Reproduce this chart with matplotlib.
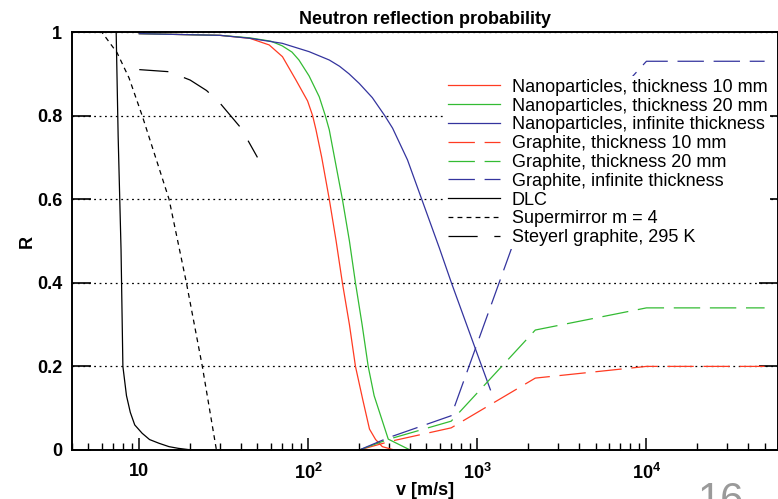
import numpy as np
import matplotlib
matplotlib.use("Agg")
import matplotlib.pyplot as plt
from matplotlib.ticker import FixedLocator, FixedFormatter, LogLocator, NullFormatter

plt.rcParams['font.family'] = ['Liberation Sans', 'DejaVu Sans']
plt.rcParams['mathtext.fontset'] = 'custom'
plt.rcParams['mathtext.bf'] = 'Liberation Sans:bold'
plt.rcParams['mathtext.rm'] = 'Liberation Sans'
plt.rcParams['lines.scale_dashes'] = False

# Nanoparticles (solid)
v_np10 = [10, 30, 45, 58.7, 70.3, 84.5, 99, 106, 111, 120, 133, 146, 159, 175, 190, 210, 230, 250, 274, 323, 1000]
R_np10 = [0.996, 0.992, 0.985, 0.969, 0.941, 0.885, 0.835, 0.8, 0.766, 0.7, 0.6, 0.5, 0.4, 0.3, 0.2, 0.12, 0.05, 0.025, 0.008, 0, 0]

v_np20 = [10, 30, 45, 60, 70, 80, 88, 101, 116, 126, 133, 159, 175, 190, 208, 226, 245, 297, 400, 1000]
R_np20 = [0.996, 0.992, 0.986, 0.978, 0.967, 0.952, 0.933, 0.895, 0.845, 0.8, 0.766, 0.6, 0.5, 0.4, 0.3, 0.2, 0.13, 0.026, 0, 0]

v_npinf = [10, 30, 45, 70, 101, 133, 153, 174, 200, 239, 283, 315, 386, 596, 702, 1000, 1194]
R_npinf = [0.996, 0.992, 0.985, 0.973, 0.953, 0.933, 0.918, 0.9, 0.877, 0.843, 0.8, 0.77, 0.694, 0.483, 0.4, 0.229, 0.144]

# Graphite (dashed)
v_gr = [200, 300, 700, 2200, 10000, 50000]
R_gr10 = [0, 0.02, 0.053, 0.172, 0.2, 0.2]
R_gr20 = [0, 0.026, 0.069, 0.287, 0.34, 0.34]
R_grinf = [0, 0.03, 0.082, 0.64, 0.93, 0.93]

# DLC
v_dlc = [4, 7.3, 7.5, 7.8, 8.0, 8.4, 8.85, 9.4, 10.4, 11.5, 13.1, 15, 17, 19.5, 30, 100]
R_dlc = [1, 1, 0.75, 0.48, 0.2, 0.13, 0.09, 0.06, 0.04, 0.025, 0.016, 0.008, 0.004, 0.001, 0, 0]

# Supermirror m = 4
v_sm = [4, 6.0, 7.4, 8.7, 10.4, 15, 19, 23.6, 28.6]
R_sm = [1, 1, 0.95, 0.89, 0.8, 0.6, 0.4, 0.2, 0]

# Steyerl graphite, 295 K
v_st = [10, 15, 20, 25, 30, 40, 50]
R_st = [0.91, 0.905, 0.885, 0.86, 0.83, 0.77, 0.70]

red = '#ff3b22'
green = '#33bb33'
blue = '#34349e'
dash_gr = (0, (19, 7))

fig = plt.figure(figsize=(7.78, 4.99), dpi=100)
ax = fig.add_axes([72/778, 49/499, 706/778, 418/499])

lw = 0.9
ax.plot(v_np10, R_np10, color=red, lw=lw, label='Nanoparticles, thickness 10 mm')
ax.plot(v_np20, R_np20, color=green, lw=lw, label='Nanoparticles, thickness 20 mm')
ax.plot(v_npinf, R_npinf, color=blue, lw=lw, label='Nanoparticles, infinite thickness')
ax.plot(v_gr, R_gr10, color=red, lw=lw, ls=dash_gr, label='Graphite, thickness 10 mm')
ax.plot(v_gr, R_gr20, color=green, lw=lw, ls=dash_gr, label='Graphite, thickness 20 mm')
ax.plot(v_gr, R_grinf, color=blue, lw=lw, ls=dash_gr, label='Graphite, infinite thickness')
ax.plot(v_dlc, R_dlc, color='black', lw=lw, label='DLC')
ax.plot(v_sm, R_sm, color='black', lw=lw, ls=(0, (3.5, 3)), label='Supermirror m = 4')
ax.plot(v_st, R_st, color='black', lw=lw, ls=(0, (21, 12)), label='Steyerl graphite, 295 K')

ax.set_xscale('log')
ax.set_xlim(4, 6e4)
ax.set_ylim(0, 1)

ax.xaxis.set_major_locator(FixedLocator([10, 100, 1000, 10000]))
ax.xaxis.set_major_formatter(FixedFormatter(['10', r'$\mathbf{10^{2}}$', r'$\mathbf{10^{3}}$', r'$\mathbf{10^{4}}$']))
ax.xaxis.set_minor_locator(LogLocator(base=10, subs=np.arange(2, 10), numticks=20))
ax.xaxis.set_minor_formatter(NullFormatter())

ax.set_yticks([0, 0.2, 0.4, 0.6, 0.8, 1])
ax.set_yticklabels(['0', '0.2', '0.4', '0.6', '0.8', '1'])

ax.tick_params(axis='x', which='major', direction='in', length=9, width=1.1, pad=9.5, top=False)
ax.tick_params(axis='x', which='minor', direction='in', length=5, width=1.0, top=False)
ax.tick_params(axis='y', which='major', direction='in', length=14, width=1.2, pad=7, left=True, right=True)
for lab in ax.get_xticklabels() + ax.get_yticklabels():
    lab.set_fontweight('bold')
    lab.set_fontsize(13)

for s in ax.spines.values():
    s.set_linewidth(1.4)

ax.grid(axis='y', color='black', ls=(0, (1.3, 2.6)), lw=0.9)
ax.grid(axis='x', visible=False)

ax.set_title('Neutron reflection probability', fontsize=13, fontweight='bold', pad=6)
ax.set_xlabel('v [m/s]', fontsize=13, fontweight='bold')
ax.xaxis.set_label_coords(0.5, -0.077)
ax.set_ylabel('R', fontsize=13, fontweight='bold')
ax.yaxis.set_label_coords(-0.052, 0.5)

leg = ax.legend(loc='upper left', bbox_to_anchor=(445/778, 1 - 76/499), bbox_transform=fig.transFigure,
                fontsize=13, frameon=True, fancybox=False, framealpha=1, facecolor='white',
                edgecolor='none', borderpad=0.15, borderaxespad=0, labelspacing=0.1,
                handlelength=2.9, handletextpad=0.65)
leg.set_zorder(5)

fig.text(698/778, -0.026, '16', fontsize=30, color='#9a9a9a', ha='left', va='baseline')

plt.savefig('out.png', dpi=100)
